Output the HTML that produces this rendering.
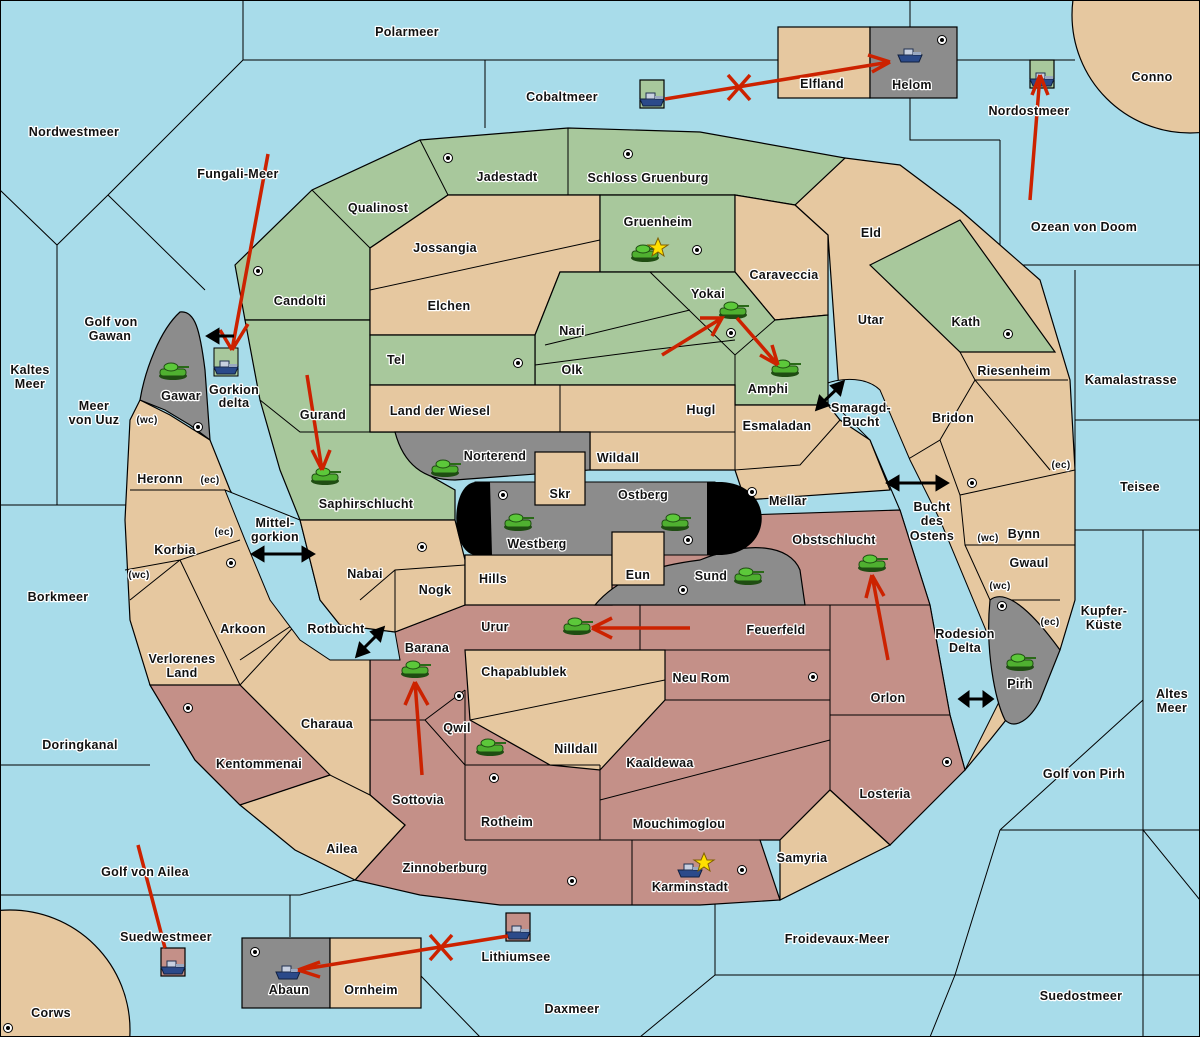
<!DOCTYPE html>
<html><head><meta charset="utf-8"><style>
html,body{margin:0;padding:0;background:#a8dcea;width:1200px;height:1037px;overflow:hidden}
svg{display:block;position:absolute;left:0;top:0}
text{font-family:"Liberation Sans",sans-serif;font-weight:bold;font-size:12.5px;fill:#111;paint-order:stroke;stroke:#fff;stroke-width:2.5px;stroke-linejoin:round;letter-spacing:0.3px}
.s{font-size:10px}
.l{stroke:#000;stroke-width:1;fill:none}
.t{fill:#e6c8a0;stroke:#000;stroke-width:1.2}
.g{fill:#a8c89c;stroke:#000;stroke-width:1.2}
.r{fill:#c49088;stroke:#000;stroke-width:1.2}
.y{fill:#8c8c8c;stroke:#000;stroke-width:1.2}
.a{stroke:#cc2200;stroke-width:3.5;fill:none}
</style></head><body>
<svg width="1200" height="1037" viewBox="0 0 1200 1037" xmlns="http://www.w3.org/2000/svg">
<defs>
<g id="tk"><ellipse cx="0" cy="3" rx="14" ry="4" fill="#1f4d12"/><rect x="-13" y="-4" width="26" height="7" rx="3" fill="#4fb030" stroke="#1f4d12"/><ellipse cx="-2" cy="-6" rx="7" ry="4" fill="#5cc83a" stroke="#1f4d12"/><rect x="4" y="-7" width="12" height="2" fill="#2a6a18"/></g>
<g id="sh"><path d="M-12,0 L12,0 L9,7 L-9,7 Z" fill="#2b4a8a" stroke="#102040"/><rect x="-6" y="-6" width="9" height="6" fill="#c8d0e0" stroke="#203050"/><rect x="3" y="-3" width="8" height="3" fill="#9aa8c0"/></g>
<g id="dt"><circle r="4.5" fill="#fff" stroke="#000"/><circle r="2" fill="#000"/></g>
<clipPath id="cp"><rect width="1200" height="1037"/></clipPath>
</defs>
<g clip-path="url(#cp)">
<rect width="1200" height="1037" fill="#a8dcea"/>
<circle cx="1190" cy="15" r="118" class="t"/>
<circle cx="10" cy="1030" r="120" class="t"/>
<path class="l" d="M243,0 V60 L108,195 L57,245 L0,190 M57,245 V505 M108,195 L205,290 M243,60 H778 M485,60 V128 M910,0 V140 H1000 M957,60 H1075 M1000,140 V265 H1200 M1075,270 V420 H1200 M1075,420 L1075,530 H1143 V1037 M1143,530 L1200,530 M1143,700 L1000,830 M1000,830 L1200,830 M1143,830 L1200,900 M1000,830 L955,975 L930,1037 M955,975 H1200 M0,505 H130 M0,765 H150 M0,895 H300 L355,880 M290,895 V937 M715,895 V975 M715,975 H955 M420,975 L480,1037 M715,975 L640,1037 M0.5,0.5 H1199.5 V1036.5 H0.5 Z"/>
<path class="t" d="M845,158 L900,165 L960,210 L1040,280 L1070,380 L1075,470 L1075,600 L1060,650 L1030,690 L990,740 L965,770 L950,715 L930,605 L900,510 L870,440 L840,405 L828,235 L795,205 Z"/>
<path class="g" d="M870,265 L960,220 L1055,352 L960,352 Z"/>
<path class="l" d="M960,352 L975,380 L940,440 L890,470 M975,380 L1068,380 M975,380 L1050,470 M940,440 L960,495 L1075,470 M960,495 L965,545 L1075,545 M965,545 L990,600 L1060,600"/>
<path d="M802,405 C810,380 860,370 880,390 L910,460 L940,520 L965,580 L990,640 L1000,700 L980,740 L965,770 L950,715 L930,605 L900,510 L870,440 L840,410 Z" fill="#a8dcea" stroke="#000"/>
<path class="y" d="M990,600 C1000,592 1020,595 1060,650 L1040,700 C1030,720 1015,730 1005,720 C995,700 985,650 990,600Z"/>
<path class="g" d="M235,265 L312,190 L420,140 L568,128 L700,132 L845,158 L795,205 L735,195 L600,195 L448,195 L370,248 L370,320 L245,320 Z"/>
<path class="l" d="M312,190 L370,248 M420,140 L448,195 M568,128 V195"/>
<path class="g" d="M245,320 L370,320 L370,432 L395,432 L420,470 L455,490 L455,520 L300,520 L280,470 L260,400 Z"/>
<path class="l" d="M260,400 L300,432 L395,432"/>
<path class="t" d="M370,248 L448,195 L600,195 L600,272 L560,272 L535,335 L370,335 Z"/>
<path class="l" d="M370,290 L600,240"/>
<path class="g" d="M600,195 L735,195 L735,272 L600,272 Z"/>
<path class="t" d="M735,195 L795,205 L828,235 L828,315 L775,320 L735,272 Z"/>
<path class="g" d="M560,272 L735,272 L775,320 L828,315 L828,405 L735,405 L735,385 L535,385 L535,335 Z"/>
<path class="l" d="M650,272 L735,355 L775,320 M535,365 L650,350 L735,340 M545,345 L690,310 M735,355 L735,385 M535,335 V385"/>
<path class="g" d="M370,335 L535,335 L535,385 L370,385 Z"/>
<path class="t" d="M370,385 L735,385 L735,405 L828,405 L840,420 L870,440 L890,490 L745,500 L735,470 L590,470 L590,432 L370,432 Z"/>
<path class="l" d="M560,385 V432 M735,405 V470 L800,465 L840,420 M590,432 L735,432"/>
<path class="r" d="M745,515 L900,510 L930,605 L950,715 L965,770 L890,845 L830,790 L780,840 L760,840 L780,900 L700,905 L632,905 L500,905 L420,895 L355,880 L405,825 L370,795 L370,630 L395,632 L465,605 Z"/>
<path class="t" d="M465,650 L665,650 L665,700 L600,770 L550,765 L470,720 Z"/>
<path class="l" d="M470,720 L665,680 M465,605 H930 M465,650 H830 M640,605 V650 M830,605 V790 M665,700 H830 M830,715 H950 M600,765 V840 M465,765 H600 M600,800 L830,740 M465,690 V840 M370,720 H425 L465,765 M425,720 L465,690 M465,840 H632 V905 M632,840 H780"/>
<path class="t" d="M780,840 L830,790 L890,845 L780,900 Z"/>
<path class="t" d="M130,420 L140,400 L170,415 L210,440 L230,490 L270,560 L320,630 L370,630 L370,795 L405,825 L355,880 L295,850 L240,805 L195,760 L150,685 L130,620 L125,520 Z"/>
<path class="r" d="M150,685 L240,685 L330,775 L240,805 L195,760 Z"/>
<path class="l" d="M130,490 H225 M125,570 L180,560 L240,540 M180,560 L240,685 M130,600 L180,560 M240,660 L300,620 M240,685 L300,620 M240,805 L330,775 L370,795 M300,620 L340,640"/>
<path d="M225,490 L300,520 L320,600 L340,625 L395,632 L400,660 L330,660 L300,640 L270,600 L245,540 Z" fill="#a8dcea" stroke="#000"/>
<path class="t" d="M300,520 L455,520 L465,560 L465,605 L395,632 L340,625 L320,600 Z"/>
<path class="l" d="M360,600 L395,570 L465,565 M395,570 L395,632 M465,560 H612"/>
<path class="t" d="M465,555 L612,555 L612,605 L465,605Z"/>
<path class="y" d="M180,312 C195,310 200,330 205,370 L210,440 L190,425 L165,410 L140,400 C145,370 160,330 180,312 Z"/>
<rect x="214" y="348" width="24" height="28" fill="#a8c89c" stroke="#000"/>
<path class="y" d="M395,432 L590,432 L590,470 L455,480 C430,480 405,470 395,432Z"/>
<path class="y" d="M595,605 C620,575 660,565 700,560 C750,540 790,545 800,570 L805,605 Z"/>
<rect x="475" y="482" width="240" height="73" fill="#8c8c8c" stroke="#000"/>
<path d="M490,482 L475,482 C450,485 450,552 475,555 L492,555 Z" fill="#000"/>
<path d="M707,482 L722,482 C775,485 775,552 722,555 L707,555 Z" fill="#000"/>
<rect x="535" y="452" width="50" height="53" class="t"/>
<rect x="612" y="532" width="52" height="53" class="t"/>
<rect x="778" y="27" width="92" height="71" class="t"/>
<rect x="870" y="27" width="87" height="71" class="y"/>
<rect x="242" y="938" width="88" height="70" class="y"/>
<rect x="330" y="938" width="91" height="70" class="t"/>
<rect x="640" y="80" width="24" height="28" class="g"/>
<rect x="1030" y="60" width="24" height="28" class="g"/>
<rect x="506" y="913" width="24" height="28" class="r"/>
<rect x="161" y="948" width="24" height="28" class="r"/>
<g>
<use href="#dt" x="448" y="158"/><use href="#dt" x="628" y="154"/><use href="#dt" x="258" y="271"/><use href="#dt" x="697" y="250"/><use href="#dt" x="518" y="363"/><use href="#dt" x="731" y="333"/><use href="#dt" x="1008" y="334"/><use href="#dt" x="972" y="483"/><use href="#dt" x="752" y="492"/><use href="#dt" x="503" y="495"/><use href="#dt" x="688" y="540"/><use href="#dt" x="422" y="547"/><use href="#dt" x="683" y="590"/><use href="#dt" x="231" y="563"/><use href="#dt" x="198" y="427"/><use href="#dt" x="459" y="696"/><use href="#dt" x="188" y="708"/><use href="#dt" x="813" y="677"/><use href="#dt" x="947" y="762"/><use href="#dt" x="494" y="778"/><use href="#dt" x="572" y="881"/><use href="#dt" x="742" y="870"/><use href="#dt" x="1002" y="606"/><use href="#dt" x="942" y="40"/><use href="#dt" x="255" y="952"/><use href="#dt" x="8" y="1028"/>
</g>
<use href="#tk" x="645" y="255"/><use href="#tk" x="733" y="312"/><use href="#tk" x="785" y="370"/><use href="#tk" x="173" y="373"/><use href="#tk" x="325" y="478"/><use href="#tk" x="445" y="470"/><use href="#tk" x="518" y="524"/><use href="#tk" x="675" y="524"/><use href="#tk" x="748" y="578"/><use href="#tk" x="872" y="565"/><use href="#tk" x="577" y="628"/><use href="#tk" x="415" y="671"/><use href="#tk" x="490" y="749"/><use href="#tk" x="1020" y="664"/>
<use href="#sh" x="226" y="367"/><use href="#sh" x="652" y="99"/><use href="#sh" x="1042" y="79"/><use href="#sh" x="518" y="932"/><use href="#sh" x="173" y="967"/><use href="#sh" x="910" y="55"/><use href="#sh" x="288" y="972"/><use href="#sh" x="690" y="870"/>
<polygon points="658,238 661,245 668,245 662,249 664,256 658,252 652,256 654,249 648,245 655,245" fill="#ffe000" stroke="#806000"/>
<polygon points="704,853 707,860 714,860 708,864 710,871 704,867 698,871 700,864 694,860 701,860" fill="#ffe000" stroke="#806000"/>
<path class="a" d="M268,154 L232,350 M232,350 L220,330 M232,350 L248,324 M307,375 L322,470 M322,470 L312,450 M322,470 L330,450 M662,355 L722,318 M700,318 L722,318 L712,336 M737,318 L778,365 M778,365 L760,355 M778,365 L772,345 M690,628 L592,628 M592,628 L612,618 M592,628 L612,638 M888,660 L872,575 M872,575 L866,598 M872,575 L884,596 M422,775 L415,682 M415,682 L405,705 M415,682 L428,705 M1030,200 L1040,75 M1040,75 L1032,95 M1040,75 L1048,95 M665,99 L890,62 M890,62 L868,55 M890,62 L872,72 M508,936 L298,970 M298,970 L320,962 M298,970 L320,977 M138,845 L165,948"/>
<path d="M728,75 L750,100 M750,75 L728,100" stroke="#cc2200" stroke-width="3.5"/>
<path d="M430,935 L452,960 M452,935 L430,960" stroke="#cc2200" stroke-width="3.5"/>
<g stroke="#000" stroke-width="3" fill="#000">
<path d="M212,336 H234"/><polygon points="208,336 218,330 218,342"/>
<path d="M258,554 H308"/><polygon points="253,554 263,548 263,560"/><polygon points="313,554 303,548 303,560"/>
<path d="M360,652 L380,632"/><polygon points="357,656 360,644 368,652"/><polygon points="383,628 372,632 380,640"/>
<path d="M820,405 L840,386"/><polygon points="817,409 820,397 828,405"/><polygon points="843,382 832,386 840,394"/>
<path d="M893,483 H942"/><polygon points="888,483 898,477 898,489"/><polygon points="947,483 937,477 937,489"/>
<path d="M964,699 H988"/><polygon points="960,699 968,693 968,705"/><polygon points="992,699 984,693 984,705"/>
</g>
<g text-anchor="middle">
<text x="407" y="36">Polarmeer</text><text x="562" y="101">Cobaltmeer</text><text x="822" y="88">Elfland</text><text x="912" y="89">Helom</text><text x="1152" y="81">Conno</text><text x="1029" y="115">Nordostmeer</text>
<text x="74" y="136">Nordwestmeer</text><text x="238" y="178">Fungali-Meer</text><text x="507" y="181">Jadestadt</text><text x="648" y="182">Schloss Gruenburg</text><text x="378" y="212">Qualinost</text><text x="658" y="226">Gruenheim</text><text x="1084" y="231">Ozean von Doom</text><text x="871" y="237">Eld</text><text x="445" y="252">Jossangia</text><text x="784" y="279">Caraveccia</text><text x="708" y="298">Yokai</text><text x="300" y="305">Candolti</text><text x="449" y="310">Elchen</text><text x="111" y="326">Golf von</text><text x="110" y="340">Gawan</text><text x="871" y="324">Utar</text><text x="966" y="326">Kath</text><text x="572" y="335">Nari</text><text x="396" y="364">Tel</text><text x="30" y="374">Kaltes</text><text x="30" y="388">Meer</text><text x="572" y="374">Olk</text><text x="1014" y="375">Riesenheim</text><text x="1131" y="384">Kamalastrasse</text><text x="768" y="393">Amphi</text><text x="234" y="394">Gorkion</text><text x="234" y="407">delta</text><text x="181" y="400">Gawar</text><text x="94" y="410">Meer</text><text x="94" y="424">von Uuz</text><text x="861" y="412">Smaragd-</text><text x="861" y="426">Bucht</text><text x="701" y="414">Hugl</text><text x="440" y="415">Land der Wiesel</text><text x="323" y="419">Gurand</text><text x="953" y="422">Bridon</text><text x="777" y="430">Esmaladan</text><text x="495" y="460">Norterend</text><text x="618" y="462">Wildall</text><text x="160" y="483">Heronn</text><text x="1140" y="491">Teisee</text><text x="560" y="498">Skr</text><text x="643" y="499">Ostberg</text><text x="788" y="505">Mellar</text><text x="366" y="508">Saphirschlucht</text><text x="932" y="511">Bucht</text><text x="932" y="525">des</text><text x="932" y="540">Ostens</text><text x="275" y="527">Mittel-</text><text x="275" y="541">gorkion</text><text x="1024" y="538">Bynn</text><text x="834" y="544">Obstschlucht</text><text x="537" y="548">Westberg</text><text x="175" y="554">Korbia</text><text x="1029" y="567">Gwaul</text><text x="638" y="579">Eun</text><text x="365" y="578">Nabai</text><text x="711" y="580">Sund</text><text x="493" y="583">Hills</text><text x="435" y="594">Nogk</text><text x="58" y="601">Borkmeer</text><text x="1104" y="615">Kupfer-</text><text x="1104" y="629">Küste</text><text x="495" y="631">Urur</text><text x="776" y="634">Feuerfeld</text><text x="336" y="633">Rotbucht</text><text x="243" y="633">Arkoon</text><text x="965" y="638">Rodesion</text><text x="965" y="652">Delta</text><text x="427" y="652">Barana</text><text x="182" y="663">Verlorenes</text><text x="182" y="677">Land</text><text x="524" y="676">Chapablublek</text><text x="701" y="682">Neu Rom</text><text x="1020" y="688">Pirh</text><text x="1172" y="698">Altes</text><text x="1172" y="712">Meer</text><text x="888" y="702">Orlon</text><text x="327" y="728">Charaua</text><text x="457" y="732">Qwil</text><text x="80" y="749">Doringkanal</text><text x="576" y="753">Nilldall</text><text x="259" y="768">Kentommenai</text><text x="660" y="767">Kaaldewaa</text><text x="1084" y="778">Golf von Pirh</text><text x="885" y="798">Losteria</text><text x="418" y="804">Sottovia</text><text x="507" y="826">Rotheim</text><text x="679" y="828">Mouchimoglou</text><text x="342" y="853">Ailea</text><text x="802" y="862">Samyria</text><text x="445" y="872">Zinnoberburg</text><text x="145" y="876">Golf von Ailea</text><text x="690" y="891">Karminstadt</text><text x="166" y="941">Suedwestmeer</text><text x="837" y="943">Froidevaux-Meer</text><text x="516" y="961">Lithiumsee</text><text x="289" y="994">Abaun</text><text x="371" y="994">Ornheim</text><text x="1081" y="1000">Suedostmeer</text><text x="572" y="1013">Daxmeer</text><text x="51" y="1017">Corws</text>
<text class="s" x="147" y="423">(wc)</text><text class="s" x="210" y="483">(ec)</text><text class="s" x="224" y="535">(ec)</text><text class="s" x="139" y="578">(wc)</text><text class="s" x="1061" y="468">(ec)</text><text class="s" x="988" y="541">(wc)</text><text class="s" x="1000" y="589">(wc)</text><text class="s" x="1050" y="625">(ec)</text>
</g>
</g>
</svg>
</body></html>
